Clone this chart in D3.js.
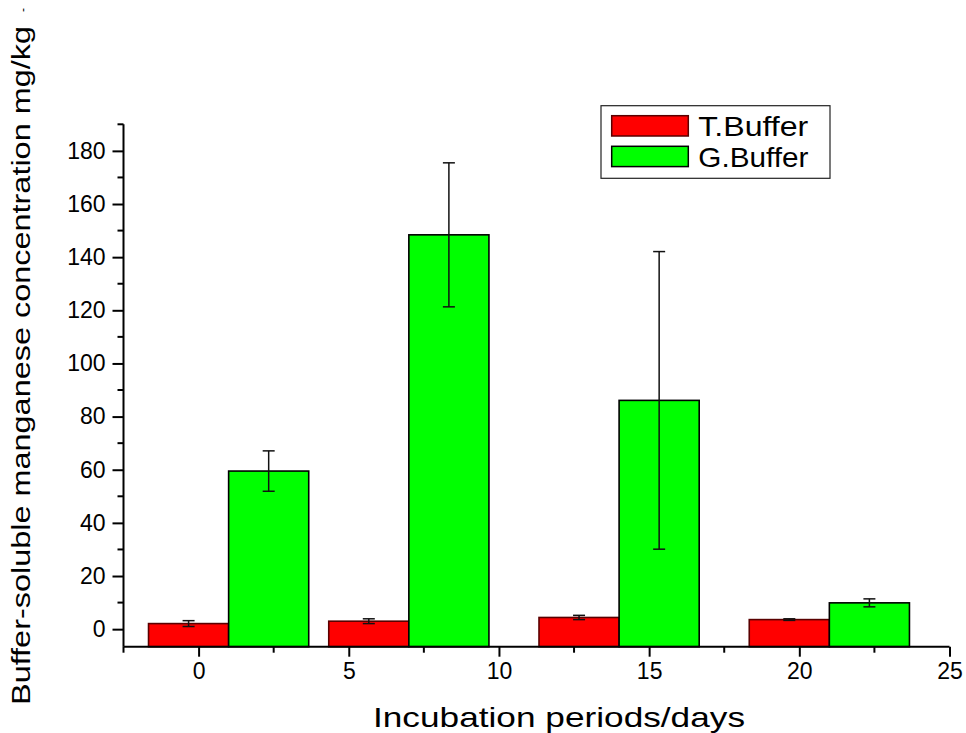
<!DOCTYPE html>
<html>
<head>
<meta charset="utf-8">
<script src="https://cdn.jsdelivr.net/npm/d3@7/dist/d3.min.js"></script>
<style>
  html, body { margin: 0; padding: 0; background: #fff; }
  svg { display: block; font-family: "Liberation Sans", Arial, sans-serif; }
</style>
</head>
<body>
<svg id="chart" width="966" height="733"></svg>
<script>
// ---- data ----
const days = [1, 7, 14, 21];
const seriesNames = ["T.Buffer", "G.Buffer"];
const tBuffer = [2.1, 3.0, 4.4, 3.6];
const tBufferErr = [1.1, 0.9, 0.8, 0.3];
const gBuffer = [59.5, 148.4, 86.1, 9.9];
const gBufferErr = [7.6, 27.1, 56.0, 1.5];
const xTicks = [0, 5, 10, 15, 20, 25];
const yTicks = [0, 20, 40, 60, 80, 100, 120, 140, 160, 180];

const colors = ["#ff0000", "#00ff00"];
const strokes = ["#5a0000", "#000000"];

const svg = d3.select("#chart");

const x = d3.scaleLinear().domain([-2.5, 25]).range([123.5, 949.5]);
const y = d3.scaleLinear().domain([-6.6, 190]).range([646.7, 124.3]);
const barW = 8 / 3; // in data units

const series = [
  { name: seriesNames[0], vals: tBuffer, errs: tBufferErr, offset: -barW },
  { name: seriesNames[1], vals: gBuffer, errs: gBufferErr, offset: 0 }
];

// bars
series.forEach((s, si) => {
  const g = svg.append("g");
  g.selectAll("rect").data(days).join("rect")
    .attr("x", (d) => x(d + s.offset))
    .attr("width", x(barW) - x(0))
    .attr("y", (d, i) => y(s.vals[i]))
    .attr("height", (d, i) => y(-6.6) - y(s.vals[i]))
    .attr("fill", colors[si])
    .attr("stroke", strokes[si])
    .attr("stroke-width", 1.6);
});

// error bars
series.forEach((s) => {
  const g = svg.append("g").attr("stroke", "#111").attr("stroke-width", 1.5);
  days.forEach((d, i) => {
    const cx = x(d + s.offset + barW / 2);
    const lo = y(s.vals[i] - s.errs[i]);
    const hi = y(s.vals[i] + s.errs[i]);
    g.append("line").attr("x1", cx).attr("x2", cx).attr("y1", lo).attr("y2", hi);
    g.append("line").attr("x1", cx - 6).attr("x2", cx + 6).attr("y1", lo).attr("y2", lo);
    g.append("line").attr("x1", cx - 6).attr("x2", cx + 6).attr("y1", hi).attr("y2", hi);
  });
});

// axes
const axisColor = "#000";
const xAxis = d3.axisBottom(x).tickValues(xTicks).tickSize(10).tickSizeOuter(0).tickPadding(6).tickFormat(d3.format("d"));
const gx = svg.append("g").attr("transform", `translate(0,${y(-6.6)})`).call(xAxis);
gx.select(".domain").attr("stroke-width", 2).attr("d", `M${x(-2.5)},0H${x(25)}`);
gx.selectAll(".tick line").attr("stroke-width", 2);
gx.selectAll(".tick text").attr("font-size", 23).attr("font-family", "Liberation Sans, Arial, sans-serif").attr("fill", "#000");
const xMinor = d3.range(-2.5, 25, 5);
gx.selectAll(".minor").data(xMinor).join("line").attr("class", "minor")
  .attr("x1", (d) => x(d)).attr("x2", (d) => x(d)).attr("y1", 0).attr("y2", 6)
  .attr("stroke", axisColor).attr("stroke-width", 2);

const yAxis = d3.axisLeft(y).tickValues(yTicks).tickSize(11).tickSizeOuter(0).tickPadding(7);
const gy = svg.append("g").attr("transform", `translate(${x(-2.5)},0)`).call(yAxis);
gy.select(".domain").attr("stroke-width", 2).attr("d", `M0,${y(190)}V${y(-6.6)}`);
gy.selectAll(".tick line").attr("stroke-width", 2);
gy.selectAll(".tick text").attr("font-size", 23).attr("font-family", "Liberation Sans, Arial, sans-serif").attr("fill", "#000");
const yMinor = d3.range(10, 191, 20);
gy.selectAll(".minor").data(yMinor).join("line").attr("class", "minor")
  .attr("x1", -6).attr("x2", 0).attr("y1", (d) => y(d)).attr("y2", (d) => y(d))
  .attr("stroke", axisColor).attr("stroke-width", 2);

// axis titles
svg.append("text")
  .attr("x", 373).attr("y", 727)
  .attr("font-size", 28)
  .attr("textLength", 372).attr("lengthAdjust", "spacingAndGlyphs")
  .text("Incubation periods/days");

svg.append("text")
  .attr("transform", "translate(30,705) rotate(-90)")
  .attr("x", 0).attr("y", 0)
  .attr("font-size", 25)
  .attr("textLength", 679).attr("lengthAdjust", "spacingAndGlyphs")
  .text("Buffer-soluble manganese concentration mg/kg");
svg.append("text")
  .attr("transform", "translate(27,12) rotate(-90)")
  .attr("font-size", 12)
  .text("-");

// legend
const lg = svg.append("g");
lg.append("rect").attr("x", 601).attr("y", 105.7).attr("width", 229).attr("height", 72.6)
  .attr("fill", "#fff").attr("stroke", "#222").attr("stroke-width", 1.2);
series.forEach((s, i) => {
  const yy = 115.7 + i * 30.6;
  lg.append("rect").attr("x", 611.7).attr("y", yy).attr("width", 76.6).attr("height", 20.3)
    .attr("fill", colors[i]).attr("stroke", strokes[i]).attr("stroke-width", 1.5);
  lg.append("text").attr("x", 698.3).attr("y", yy + 20.5)
    .attr("font-size", 28).attr("textLength", 110).attr("lengthAdjust", "spacingAndGlyphs")
    .text(s.name);
});
</script>
</body>
</html>
